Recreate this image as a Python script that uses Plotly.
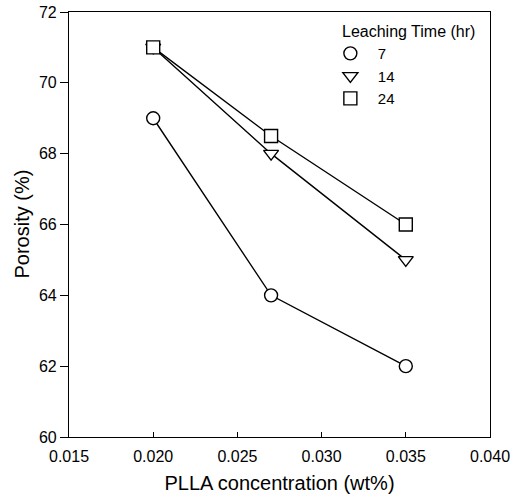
import plotly.graph_objects as go

conc = [0.020, 0.027, 0.035]
t7 = [69, 64, 62]
t14 = [71, 68, 65]
t24 = [71, 68.5, 66]
series = [("7", t7, "circle"), ("14", t14, "triangle-down"), ("24", t24, "square")]
legend_title = "Leaching Time (hr)"
x_title = "PLLA concentration (wt%)"
y_title = "Porosity (%)"

fig = go.Figure()
for name, ys, sym in series:
    fig.add_trace(go.Scatter(
        x=conc, y=ys, mode="lines+markers", showlegend=False,
        line=dict(color="black", width=1.4),
        marker=dict(symbol=sym, size=13, color="white", line=dict(color="black", width=1.4)),
    ))
for name, ys, sym in series:
    fig.add_trace(go.Scatter(
        x=[None], y=[None], mode="markers", name=name,
        marker=dict(symbol=sym, size=13, color="white", line=dict(color="black", width=1.4)),
    ))

fig.add_annotation(
    text=legend_title, xref="paper", yref="paper", x=0.644, y=0.953,
    xanchor="left", yanchor="middle", showarrow=False,
    font=dict(size=16, color="black"),
)
fig.add_annotation(
    text=y_title, xref="paper", yref="paper", x=-0.114, y=0.5,
    xanchor="center", yanchor="middle", textangle=-90, showarrow=False,
    font=dict(size=20, color="black"),
)

fig.update_layout(
    width=511, height=503,
    margin=dict(l=69, r=21, t=12, b=66),
    paper_bgcolor="white", plot_bgcolor="white",
    font=dict(family="Liberation Sans, Arial, sans-serif", size=16, color="black"),
    legend=dict(
        x=0.603, y=0.941, xanchor="left", yanchor="top",
        bgcolor="rgba(0,0,0,0)", font=dict(size=15),
        itemwidth=45,
    ),
    xaxis=dict(
        range=[0.015, 0.040], tickvals=[0.015, 0.020, 0.025, 0.030, 0.035, 0.040],
        ticktext=["0.015", "0.020", "0.025", "0.030", "0.035", "0.040"],
        ticks="inside", ticklen=5, tickcolor="black", tickwidth=1,
        ticklabelstandoff=5, tickfont=dict(size=16),
        showline=True, linecolor="black", linewidth=1.2, mirror=True,
        showgrid=False, zeroline=False, automargin=False,
        title=dict(text=x_title, font=dict(size=20), standoff=11),
    ),
    yaxis=dict(
        range=[60, 72], tickvals=[60, 62, 64, 66, 68, 70, 72],
        ticks="outside", ticklen=8, tickcolor="black", tickwidth=1,
        tickfont=dict(size=16),
        showline=True, linecolor="black", linewidth=1.2, mirror=True,
        showgrid=False, zeroline=False, automargin=False,
    ),
)
fig.write_html("out.html", config={"displayModeBar": False},
               post_script="document.body.style.margin='0';")
